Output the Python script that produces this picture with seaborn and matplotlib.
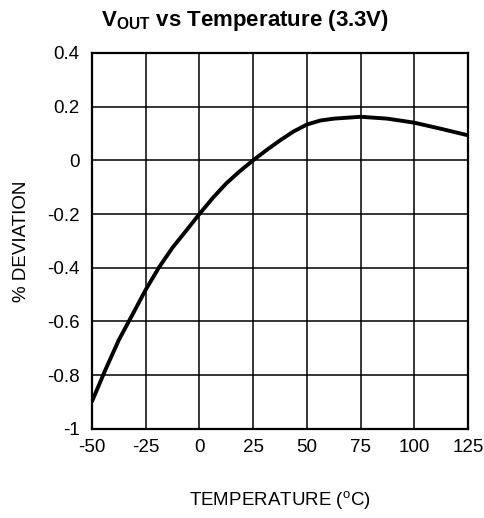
import matplotlib
matplotlib.use("Agg")
import matplotlib.pyplot as plt
import seaborn as sns
import pandas as pd

# values
temperature = [-50, -43.75, -37.5, -31.25, -25, -18.75, -12.5, -6.25, 0, 6.25, 12.5, 18.75,
               25, 31.25, 37.5, 43.75, 50, 56.25, 62.5, 75, 87.5, 100, 112.5, 125]
deviation = [-0.898, -0.78, -0.669, -0.576, -0.482, -0.398, -0.325, -0.263, -0.2, -0.14, -0.086, -0.041,
             0.0, 0.038, 0.074, 0.107, 0.133, 0.148, 0.155, 0.162, 0.155, 0.14, 0.117, 0.093]

x_ticks = [-50, -25, 0, 25, 50, 75, 100, 125]
y_ticks = [-1, -0.8, -0.6, -0.4, -0.2, 0, 0.2, 0.4]
y_tick_labels = ["-1", "-0.8", "-0.6", "-0.4", "-0.2", "0", "0.2", "0.4"]

sns.set_theme(style="white")
plt.rcParams["font.family"] = ["Liberation Sans", "DejaVu Sans"]
plt.rcParams["mathtext.fontset"] = "custom"
plt.rcParams["mathtext.rm"] = "Liberation Sans"
plt.rcParams["mathtext.bf"] = "Liberation Sans:bold"

df = pd.DataFrame({"temp": temperature, "dev": deviation})

fig = plt.figure(figsize=(4.84, 5.18), dpi=100)
ax = fig.add_axes([0.190, 0.172, 0.777, 0.726])

sns.lineplot(data=df, x="temp", y="dev", ax=ax, color="black", linewidth=2.8, zorder=3)

ax.set_xlim(-50, 125)
ax.set_ylim(-1, 0.4)
ax.set_xticks(x_ticks)
ax.set_xticklabels([str(t) for t in x_ticks])
ax.set_yticks(y_ticks)
ax.set_yticklabels(y_tick_labels)
ax.tick_params(axis="both", length=0, labelsize=13.5, colors="black")
ax.tick_params(axis="x", pad=7)
ax.tick_params(axis="y", pad=9)
ax.grid(True, color="black", linewidth=1.1)
for s in ax.spines.values():
    s.set_color("black")
    s.set_linewidth(1.6)

ax.set_xlabel("TEMPERATURE ($^{\\mathrm{o}}$C)", fontsize=13.5, labelpad=24, color="black")
ax.set_ylabel("% DEVIATION", fontsize=13.5, labelpad=12, color="black")
fig.text(0.506, 0.961, r"$\mathbf{V_{OUT}}$ vs Temperature (3.3V)", ha="center", va="center",
         fontsize=16, fontweight="bold", color="black")

fig.savefig("out.png", dpi=100)
